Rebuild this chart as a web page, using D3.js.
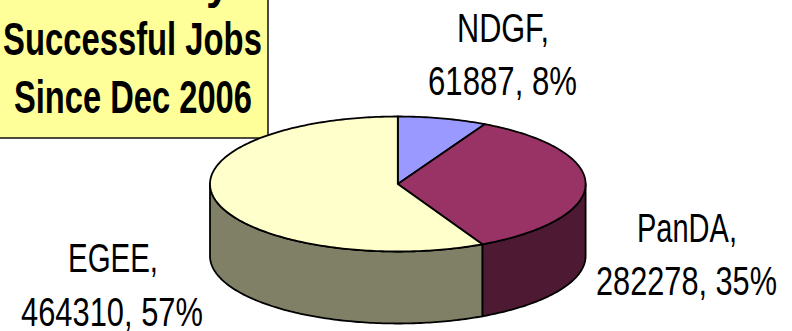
<!DOCTYPE html>
<html>
<head>
<meta charset="utf-8">
<script src="https://cdn.jsdelivr.net/npm/d3@7/dist/d3.min.js"></script>
<style>
html, body { margin: 0; padding: 0; background: #fff; }
svg { display: block; font-family: "Liberation Sans", Arial, sans-serif; }
</style>
</head>
<body>
<svg id="chart" width="792" height="331"></svg>
<script>
// Job counts per grid
const categories = ["NDGF", "PanDA", "EGEE"];
const jobs = [61887, 282278, 464310];
const percents = [8, 35, 57];
const titleLines = ["y", "Successful Jobs", "Since Dec 2006"];

// Colours per grid: top face and darker rim
const topColors = ["#9999FF", "#993366", "#FFFFCC"];
const rimColors = ["#4D1A33", "#4D1933", "#808066"];

// Label placement: one pair of spans per grid, [left, right, baseline]
const labelBoxes = [
  [[457, 549, 42], [428, 577, 95]],
  [[637, 737, 242], [596, 777, 295]],
  [[68, 158, 272], [21, 203, 326]]
];
const titleBoxes = [[206, 230, -2], [3, 262, 55], [14, 252, 113]];

const width = 792, height = 331;
const cx = 397.8, cy = 184, rx = 187.8, ry = 67.5, depth = 72;

const svg = d3.select("#chart");

const xScale = d3.scaleLinear().domain([-1, 1]).range([cx - rx, cx + rx]);
const yScale = d3.scaleLinear().domain([-1, 1]).range([cy - ry, cy + ry]);

const pie = d3.pie().sort(null).value(d => d)(jobs);

// Points along the elliptical rim, angle measured clockwise from 12 o'clock
const rimPoint = a => [xScale(Math.sin(a)), yScale(-Math.cos(a))];
const sweep = (a0, a1) => {
  const n = Math.max(2, Math.ceil(Math.abs(a1 - a0) * 60));
  return d3.range(n + 1).map(i => rimPoint(a0 + (a1 - a0) * i / n));
};
const line = d3.line();

// Title box: runs off the top left of the page
svg.append("rect")
  .attr("x", -4).attr("y", -4)
  .attr("width", 272).attr("height", 142)
  .attr("fill", "#FFFF99")
  .attr("stroke", "#000").attr("stroke-width", 1.4);

// Rim: only the part facing the viewer, from 3 o'clock round to 9 o'clock
const frontStart = Math.PI / 2, frontEnd = Math.PI * 1.5;
pie.forEach((d, i) => {
  const a0 = Math.max(d.startAngle, frontStart);
  const a1 = Math.min(d.endAngle, frontEnd);
  if (a1 <= a0) return;
  const upper = sweep(a0, a1);
  const lower = upper.map(([x, y]) => [x, y + depth]).reverse();
  svg.append("path")
    .attr("d", line(upper.concat(lower)) + "Z")
    .attr("fill", rimColors[i])
    .attr("stroke", "#000").attr("stroke-width", 1.8)
    .attr("stroke-linejoin", "round");
});

// Top face wedges
pie.forEach((d, i) => {
  const pts = [[cx, cy]].concat(sweep(d.startAngle, d.endAngle));
  svg.append("path")
    .attr("d", line(pts) + "Z")
    .attr("fill", topColors[i])
    .attr("stroke", "#000").attr("stroke-width", 1.8)
    .attr("stroke-linejoin", "round");
});

// Squeezes a line of text horizontally to sit between two x positions,
// which gives the condensed look of the lettering
function fitted(str, box, size, weight) {
  const t = svg.append("text")
    .attr("font-size", size)
    .attr("font-weight", weight)
    .attr("fill", "#000")
    .text(str);
  const natural = t.node().getComputedTextLength();
  const squeeze = (box[1] - box[0]) / natural;
  t.attr("transform", `translate(${box[0]},${box[2]}) scale(${squeeze},1)`);
}

titleLines.forEach((t, i) => fitted(t, titleBoxes[i], 47, "bold"));

categories.forEach((c, i) => {
  fitted(c + ",", labelBoxes[i][0], 41.5, "normal");
  fitted(jobs[i] + ", " + percents[i] + "%", labelBoxes[i][1], 41.5, "normal");
});
</script>
</body>
</html>
